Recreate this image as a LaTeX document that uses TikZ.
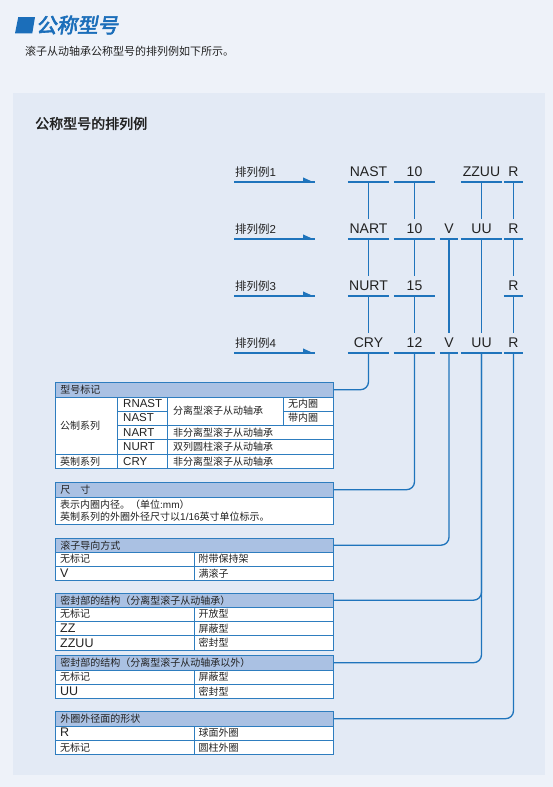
\documentclass[tikz,border=0pt]{standalone}
\usepackage{fontspec}
\setmainfont{Liberation Sans}
\newfontfamily\cjk{Noto Sans CJK SC}
\newfontfamily\cjkb[FakeBold=2]{Noto Sans CJK SC}
\newfontfamily\cjkt[FakeBold=3,FakeSlant=0.18]{Noto Sans CJK SC}
\definecolor{pagebg}{HTML}{EEF2F9}
\definecolor{panelbg}{HTML}{E3EAF5}
\definecolor{cblue}{HTML}{1F74BC}
\definecolor{tborder}{HTML}{2E7DBF}
\definecolor{hdrfill}{HTML}{AAC1E3}
\definecolor{titleblue}{HTML}{1B6EBA}
\definecolor{txt}{HTML}{222222}
\tikzset{
  tok/.style={inner sep=0pt, minimum height=20pt, text height=10pt, text depth=0pt,
    font=\fontsize{14}{16}\selectfont, text=txt, anchor=south},
  uline/.style={draw=cblue, line width=1.3pt},
  conn/.style={draw=cblue, line width=1.3pt, rounded corners=8pt},
  lbl/.style={anchor=west, inner sep=0pt, font=\cjk\fontsize{11.5}{13}\selectfont, text=txt},
  tb/.style={draw=tborder, line width=0.9pt},
  hdr/.style={draw=tborder, line width=0.9pt, fill=hdrfill, anchor=north west,
    text width=268pt, align=left, minimum height=14.5pt, inner xsep=5pt, inner ysep=0pt,
    font=\cjk\fontsize{10}{12}\selectfont, text=txt},
  cell/.style={anchor=west, inner sep=0pt, font=\cjk\fontsize{10}{12}\selectfont, text=txt},
  lat/.style={anchor=west, inner sep=0pt, font=\fontsize{11.5}{13}\selectfont, text=txt},
  latb/.style={anchor=west, inner sep=0pt, font=\fontsize{12.5}{14}\selectfont, text=txt},
}
\begin{document}
\begin{tikzpicture}[x=1pt,y=-1pt]
\useasboundingbox (0,0) rectangle (553,787);
\fill[pagebg] (0,0) rectangle (553,787);
\fill[panelbg] (13,93) rectangle (545,775);

% title
\fill[titleblue] (18.3,17) -- (35,17) -- (32.3,33.3) -- (15,33.3) -- cycle;
\node[anchor=west, inner sep=0pt, text=titleblue, font=\cjkt\fontsize{20.5}{22}\selectfont] (title) at (36,25) {公称型号};
\node[anchor=west, inner sep=0pt, text=txt, font=\cjk\fontsize{11}{13}\selectfont] (sub) at (25,51) {滚子从动轴承公称型号的排列例如下所示。};
\node[anchor=west, inner sep=0pt, text=txt, font=\cjkb\fontsize{14}{16}\selectfont] (sec) at (35,123.5) {公称型号的排列例};

% row labels and arrows
\foreach \i/\y in {1/182,2/239,3/296,4/353}{
  \node[lbl] (l\i) at (235,\y-10.3) {排列例{\fontspec{Liberation Sans}\i}};
  \coordinate (a\i s) at (234,\y);
  \coordinate (a\i e) at (314.5,\y);
  \draw[uline] (a\i s) -- (a\i e);
  \fill[cblue] (303,\y-4.6) -- (314.5,\y+0.6) -- (303,\y+0.6) -- cycle;
}

% tokens
\node[tok, minimum width=41pt] (r1a) at (368.5,182) {NAST};
\node[tok, minimum width=41pt] (r1b) at (414.5,182) {10};
\node[tok, minimum width=41pt] (r1d) at (481.5,182) {ZZUU};
\node[tok, minimum width=19pt] (r1e) at (513.5,182) {R};

\node[tok, minimum width=41pt] (r2a) at (368.5,239) {NART};
\node[tok, minimum width=41pt] (r2b) at (414.5,239) {10};
\node[tok, minimum width=18pt] (r2c) at (449,239) {V};
\node[tok, minimum width=41pt] (r2d) at (481.5,239) {UU};
\node[tok, minimum width=19pt] (r2e) at (513.5,239) {R};

\node[tok, minimum width=41pt] (r3a) at (368.5,296) {NURT};
\node[tok, minimum width=41pt] (r3b) at (414.5,296) {15};
\node[tok, minimum width=19pt] (r3e) at (513.5,296) {R};

\node[tok, minimum width=41pt] (r4a) at (368.5,353) {CRY};
\node[tok, minimum width=41pt] (r4b) at (414.5,353) {12};
\node[tok, minimum width=18pt] (r4c) at (449,353) {V};
\node[tok, minimum width=41pt] (r4d) at (481.5,353) {UU};
\node[tok, minimum width=19pt] (r4e) at (513.5,353) {R};

\foreach \n in {r1a,r1b,r1d,r1e,r2a,r2b,r2c,r2d,r2e,r3a,r3b,r3e,r4a,r4b,r4c,r4d,r4e}
  \draw[uline] (\n.south west) -- (\n.south east);

% verticals between rows
\draw[uline] (r1a.south) -- (r2a.north);
\draw[uline] (r2a.south) -- (r3a.north);
\draw[uline] (r3a.south) -- (r4a.north);
\draw[uline] (r1b.south) -- (r2b.north);
\draw[uline] (r2b.south) -- (r3b.north);
\draw[uline] (r3b.south) -- (r4b.north);
\draw[uline] (r2c.south) -- (r4c.north);
\draw[uline] (r1d.south) -- (r2d.north);
\draw[uline] (r2d.south) -- (r4d.north);
\draw[uline] (r1e.south) -- (r2e.north);
\draw[uline] (r2e.south) -- (r3e.north);
\draw[uline] (r3e.south) -- (r4e.north);

% ---------- box 1
\draw[tb, fill=white] (55,396.5) rectangle (333,468.5);
\draw[tb] (117.5,396.5) -- (117.5,468.5);
\draw[tb] (167.5,396.5) -- (167.5,468.5);
\draw[tb] (283.5,396.5) -- (283.5,425);
\draw[tb] (117.5,411) -- (167.5,411);
\draw[tb] (283.5,411) -- (333,411);
\draw[tb] (117.5,425) -- (333,425);
\draw[tb] (117.5,439.5) -- (333,439.5);
\draw[tb] (55,454) -- (333,454);
\node[hdr] (h1) at (55,382) {型号标记};
\node[cell] (c11) at (60,425.5) {公制系列};
\node[lat] (c12) at (123,404) {RNAST};
\node[lat] (c13) at (123,418) {NAST};
\node[lat] (c14) at (123,432.3) {NART};
\node[lat] (c15) at (123,446.8) {NURT};
\node[lat] (c16) at (123,461.3) {CRY};
\node[cell] (c17) at (173,411) {分离型滚子从动轴承};
\node[cell] (c18) at (288,404) {无内圈};
\node[cell] (c19) at (288,418) {带内圈};
\node[cell] (c1a) at (173,432.3) {非分离型滚子从动轴承};
\node[cell] (c1b) at (173,446.8) {双列圆柱滚子从动轴承};
\node[cell] (c1c) at (60,461.3) {英制系列};
\node[cell] (c1d) at (173,461.3) {非分离型滚子从动轴承};

% ---------- box 2
\draw[tb, fill=white] (55,496) rectangle (333,524.5);
\node[hdr] (h2) at (55,482) {尺　寸};
\node[cell] (c21) at (60,505) {表示内圈内径。（单位{\fontspec{Liberation Sans}:mm}）};
\node[cell] (c22) at (60,516.8) {英制系列的外圈外径尺寸以{\fontspec{Liberation Sans}1/16}英寸单位标示。};

% ---------- box 3
\draw[tb, fill=white] (55,551.5) rectangle (333,580.5);
\draw[tb] (55,566) -- (333,566);
\draw[tb] (194.5,551.5) -- (194.5,580.5);
\node[hdr] (h3) at (55,537.5) {滚子导向方式};
\node[cell] (c31) at (60,559) {无标记};
\node[cell] (c32) at (198.5,559) {附带保持架};
\node[latb] (c33) at (60,573.3) {V};
\node[cell] (c34) at (198.5,573.3) {满滚子};

% ---------- box 4
\draw[tb, fill=white] (55,606.5) rectangle (333,650);
\draw[tb] (55,621) -- (333,621);
\draw[tb] (55,635.5) -- (333,635.5);
\draw[tb] (194.5,606.5) -- (194.5,650);
\node[hdr] (h4) at (55,592.5) {密封部的结构（分离型滚子从动轴承）};
\node[cell] (c41) at (60,614) {无标记};
\node[cell] (c42) at (198.5,614) {开放型};
\node[latb] (c43) at (60,628.3) {ZZ};
\node[cell] (c44) at (198.5,628.3) {屏蔽型};
\node[latb] (c45) at (60,642.8) {ZZUU};
\node[cell] (c46) at (198.5,642.8) {密封型};

% ---------- box 5
\draw[tb, fill=white] (55,669) rectangle (333,698.5);
\draw[tb] (55,684) -- (333,684);
\draw[tb] (194.5,669) -- (194.5,698.5);
\node[hdr] (h5) at (55,655) {密封部的结构（分离型滚子从动轴承以外）};
\node[cell] (c51) at (60,676.5) {无标记};
\node[cell] (c52) at (198.5,676.5) {屏蔽型};
\node[latb] (c53) at (60,691.3) {UU};
\node[cell] (c54) at (198.5,691.3) {密封型};

% ---------- box 6
\draw[tb, fill=white] (55,725) rectangle (333,754.5);
\draw[tb] (55,740) -- (333,740);
\draw[tb] (194.5,725) -- (194.5,754.5);
\node[hdr] (h6) at (55,711) {外圈外径面的形状};
\node[latb] (c61) at (60,732.5) {R};
\node[cell] (c62) at (198.5,732.5) {球面外圈};
\node[cell] (c63) at (60,747.3) {无标记};
\node[cell] (c64) at (198.5,747.3) {圆柱外圈};

% connectors to boxes
\draw[conn] (r4a.south) |- (h1.east);
\draw[conn] (r4b.south) |- (h2.east);
\draw[conn] (r4c.south) |- (h3.east);
\draw[conn] (r4d.south) |- (h4.east);
\draw[conn] (r4d.south) |- (h5.east);
\draw[conn] (r4e.south) |- (h6.east);
\end{tikzpicture}
\end{document}
